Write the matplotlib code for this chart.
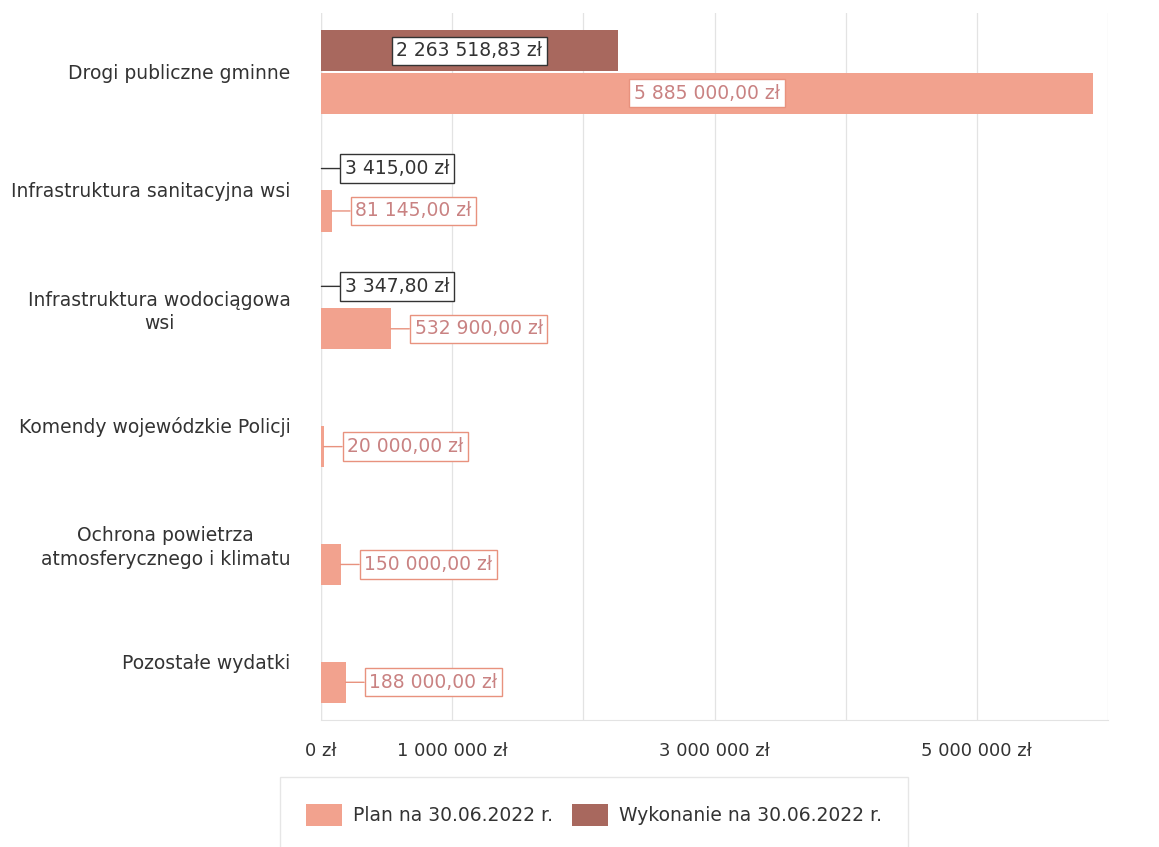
import matplotlib
matplotlib.use("Agg")
import matplotlib.pyplot as plt
import numpy as np

categories = [
    "Drogi publiczne gminne",
    "Infrastruktura sanitacyjna wsi",
    "Infrastruktura wodociągowa\nwsi",
    "Komendy wojewódzkie Policji",
    "Ochrona powietrza\natmosferycznego i klimatu",
    "Pozostałe wydatki",
]
plan = [5885000.00, 81145.00, 532900.00, 20000.00, 150000.00, 188000.00]
wykonanie = [2263518.83, 3415.00, 3347.80, 0.0, 0.0, 0.0]
series_names = ["Plan na 30.06.2022 r.", "Wykonanie na 30.06.2022 r."]
xticks = [0, 1000000, 2000000, 3000000, 4000000, 5000000, 6000000]
xtick_labels = ["0 zł", "1 000 000 zł", "", "3 000 000 zł", "", "5 000 000 zł", ""]

plan_color = "#F2A28E"
wyk_color = "#A8685E"
plan_text = "#C98282"
plan_edge = "#E8927E"
wyk_text = "#333333"
wyk_edge = "#333333"

plt.rcParams['font.family'] = ['DejaVu Sans']

def fmt(v):
    s = f"{v:,.2f}"
    s = s.replace(",", " ").replace(".", ",")
    return s + " zł"

fig = plt.figure(figsize=(11.59, 8.47), dpi=100)
ax = fig.add_axes([321/1159, 1-720/847, (1108-321)/1159, (720-13)/847])

y = np.arange(len(categories))
h = 0.35
off = 0.18
bars_w = ax.barh(y - off, wykonanie, height=h, color=wyk_color, label=series_names[1], zorder=2)
bars_p = ax.barh(y + off, plan, height=h, color=plan_color, label=series_names[0], zorder=2)

ax.set_xlim(0, 6000000)
ax.set_ylim(len(categories) - 0.5, -0.5)
ax.set_xticks(xticks)
ax.set_xticklabels(xtick_labels, fontsize=13, color="#333333")
ax.set_yticks(y)
ax.set_yticklabels(categories, fontsize=13.5, color="#333333", multialignment="center",
                   linespacing=1.3)
ax.tick_params(axis="y", length=0, pad=22)
ax.tick_params(axis="x", length=0, pad=16)
ax.grid(axis="x", color="#E3E3E3", linewidth=0.9, zorder=0)
for s in ["top", "right", "left"]:
    ax.spines[s].set_visible(False)
ax.spines["bottom"].set_color("#E3E3E3")
ax.axvline(0, color="#E3E3E3", linewidth=0.9, zorder=1)

def pxwidth(v):
    return ax.transData.transform((v, 0))[0] - ax.transData.transform((0, 0))[0]

def label(vals, ypos, tcolor, ecolor):
    for v, yy in zip(vals, ypos):
        if v <= 0:
            continue
        txt = fmt(v)
        bb = dict(boxstyle="square,pad=0.25", facecolor="white", edgecolor=ecolor, linewidth=1.0)
        if pxwidth(v) > 220:
            ax.text(v / 2, yy, txt, ha="center", va="center", fontsize=13.5, color=tcolor, bbox=bb, zorder=5)
        else:
            ax.annotate(txt, xy=(v, yy), xytext=(17, 0), textcoords="offset points",
                        ha="left", va="center", fontsize=13.5, color=tcolor, bbox=bb, zorder=5,
                        arrowprops=dict(arrowstyle="-", color=ecolor, linewidth=1.0,
                                        shrinkA=0, shrinkB=0))

label(wykonanie, y - off, wyk_text, wyk_edge)
label(plan, y + off, plan_text, plan_edge)

handles = [bars_p, bars_w]
leg = fig.legend(handles, series_names, loc="center", bbox_to_anchor=(594/1159, 1-815/847),
                 ncol=2, fontsize=13.5, frameon=True, fancybox=False, edgecolor="#E0E0E0",
                 borderpad=1.4, handlelength=1.9, handleheight=1.5, columnspacing=1.0,
                 handletextpad=0.6, borderaxespad=0)
for t in leg.get_texts():
    t.set_color("#333333")

fig.savefig("out.png", dpi=100, facecolor="white")
